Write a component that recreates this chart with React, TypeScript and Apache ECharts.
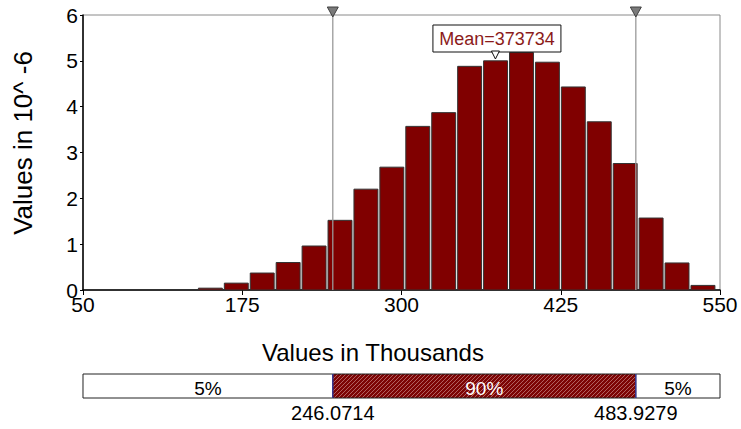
import React, { useEffect, useRef } from 'react';
import * as echarts from 'echarts';

// ---- Data ----
const binStarts = [139.8, 160.15, 180.5, 200.85, 221.2, 241.55, 261.9, 282.25, 302.6, 322.95, 343.3, 363.65, 384.0, 404.35, 424.7, 445.05, 465.4, 485.75, 506.1, 526.45];
const binWidth = 20.35;
const densities = [0.04, 0.15, 0.37, 0.6, 0.96, 1.52, 2.2, 2.68, 3.57, 3.87, 4.88, 5.0, 5.18, 4.97, 4.43, 3.67, 2.76, 1.57, 0.59, 0.1];
const percentileValues = [246.0714, 483.9279];
const percentileLabels = ['246.0714', '483.9279'];
const bandLabels = ['5%', '90%', '5%'];
const meanValue = 373.734;
const meanLabel = 'Mean=373734';
const xMin = 50;
const xMax = 550;
const xInterval = 125;
const yMin = 0;
const yMax = 6;
const yInterval = 1;
const yTitle = 'Values in 10^ -6';
const xTitle = 'Values in Thousands';

const FONT = "'Liberation Sans', Arial, sans-serif";

function makePattern(): HTMLCanvasElement {
  const c = document.createElement('canvas');
  c.width = 4;
  c.height = 4;
  const ctx = c.getContext('2d')!;
  ctx.fillStyle = '#7d0505';
  ctx.fillRect(0, 0, 4, 4);
  ctx.strokeStyle = 'rgba(235,200,200,0.6)';
  ctx.lineWidth = 0.8;
  ctx.beginPath();
  ctx.moveTo(0, 4); ctx.lineTo(4, 0);
  ctx.moveTo(-1, 1); ctx.lineTo(1, -1);
  ctx.moveTo(3, 5); ctx.lineTo(5, 3);
  ctx.stroke();
  return c;
}

export default function App() {
  const ref = useRef<HTMLDivElement>(null);

  useEffect(() => {
    if (!ref.current) return;
    const chart = echarts.init(ref.current, null, { renderer: 'svg' });
    const pattern = makePattern();

    const histData = binStarts.map((s, i) => [s, s + binWidth, densities[i]]);
    const segStarts = [xMin, ...percentileValues];
    const segEnds = [...percentileValues, xMax];
    const bandData = segStarts.map((s, i) => [s, segEnds[i]]);

    const option: any = {
      animation: false,
      backgroundColor: '#ffffff',
      textStyle: { fontFamily: FONT },
      grid: [
        { left: 83, right: 21, top: 15, bottom: 139, show: true, borderColor: '#8a8a8a', borderWidth: 1, backgroundColor: 'transparent' },
        { left: 83, right: 21, top: 374, height: 24, show: false },
      ],
      xAxis: [
        {
          type: 'value', gridIndex: 0, min: xMin, max: xMax, interval: xInterval,
          axisLine: { show: true, lineStyle: { color: '#000', width: 1.5 } },
          axisTick: { show: true, length: 5, lineStyle: { color: '#000' } },
          axisLabel: { fontSize: 21, color: '#000', margin: 4, fontFamily: FONT },
          splitLine: { show: false },
        },
        { type: 'value', gridIndex: 1, min: xMin, max: xMax, show: false },
      ],
      yAxis: [
        {
          type: 'value', gridIndex: 0, min: yMin, max: yMax, interval: yInterval,
          axisLine: { show: true, lineStyle: { color: '#000', width: 1.5 } },
          axisTick: { show: true, length: 3, lineStyle: { color: '#000' } },
          axisLabel: { fontSize: 21, color: '#000', margin: 5, fontFamily: FONT },
          splitLine: { show: false },
        },
        { type: 'value', gridIndex: 1, min: 0, max: 1, show: false },
      ],
      graphic: [
        {
          type: 'text', x: 23, y: 143, rotation: Math.PI / 2,
          style: { text: yTitle, fontSize: 26, fill: '#000', align: 'center', verticalAlign: 'middle', fontFamily: FONT },
        },
        {
          type: 'text', x: 373, y: 352,
          style: { text: xTitle, fontSize: 24, fill: '#000', align: 'center', verticalAlign: 'middle', fontFamily: FONT },
        },
      ],
      series: [
        {
          type: 'custom', xAxisIndex: 0, yAxisIndex: 0, data: histData,
          encode: { x: [0, 1], y: 2 },
          renderItem: (params: any, api: any) => {
            const p0 = api.coord([api.value(0), api.value(2)]);
            const p1 = api.coord([api.value(1), 0]);
            return {
              type: 'rect',
              shape: { x: p0[0] + 1, y: p0[1], width: p1[0] - p0[0] - 2, height: p1[1] - p0[1] },
              style: { fill: '#800000', stroke: '#333', lineWidth: 1 },
            };
          },
          z: 2,
        },
        {
          type: 'custom', xAxisIndex: 0, yAxisIndex: 0, data: percentileValues.map((v) => [v, yMax]),
          encode: { x: 0, y: 1 }, clip: false,
          renderItem: (params: any, api: any) => {
            const top = api.coord([api.value(0), yMax]);
            const bot = api.coord([api.value(0), yMin]);
            const x = top[0];
            return {
              type: 'group',
              children: [
                { type: 'line', shape: { x1: x, y1: top[1], x2: x, y2: bot[1] }, style: { stroke: '#9a9a9a', lineWidth: 1.3 } },
                { type: 'polygon', shape: { points: [[x - 5.5, top[1] - 8], [x + 5.5, top[1] - 8], [x, top[1] + 2]] }, style: { fill: '#7a7a7a', stroke: '#404040', lineWidth: 1 } },
              ],
            };
          },
          z: 5,
        },
        {
          type: 'custom', xAxisIndex: 0, yAxisIndex: 0, data: [[meanValue, yMax]],
          encode: { x: 0, y: 1 }, clip: false,
          renderItem: (params: any, api: any) => {
            const p = api.coord([api.value(0), yMax]);
            const cx = p[0] + 1.5;
            const top = p[1] + 10;
            return {
              type: 'group',
              children: [
                { type: 'rect', shape: { x: cx - 64, y: top, width: 128, height: 27 }, style: { fill: '#fff', stroke: '#111', lineWidth: 1 } },
                { type: 'text', x: cx, y: top + 14, style: { text: meanLabel, fontSize: 18, fill: '#8b1a1a', align: 'center', verticalAlign: 'middle', fontFamily: FONT } },
                { type: 'polygon', shape: { points: [[p[0] - 4, top + 26], [p[0] + 4, top + 26], [p[0], top + 34]] }, style: { fill: '#fff', stroke: '#111', lineWidth: 1 } },
              ],
            };
          },
          z: 6,
        },
        {
          type: 'custom', xAxisIndex: 1, yAxisIndex: 1, data: bandData,
          encode: { x: [0, 1] }, clip: false,
          renderItem: (params: any, api: any) => {
            const i = params.dataIndex;
            const p0 = api.coord([api.value(0), 1]);
            const p1 = api.coord([api.value(1), 0]);
            const mid = i === 1;
            const children: any[] = [
              { type: 'rect', shape: { x: p0[0], y: p0[1], width: p1[0] - p0[0], height: p1[1] - p0[1] }, style: { fill: mid ? { image: pattern, repeat: 'repeat' } : '#fff', stroke: '#222', lineWidth: 1 } },
              { type: 'text', x: (p0[0] + p1[0]) / 2, y: (p0[1] + p1[1]) / 2 + 2, style: { text: bandLabels[i], fontSize: 19, fill: mid ? '#fff' : '#000', align: 'center', verticalAlign: 'middle', fontFamily: FONT } },
            ];
            if (i > 0) {
              children.push({ type: 'line', shape: { x1: p0[0], y1: p0[1], x2: p0[0], y2: p1[1] }, style: { stroke: '#3a3aa8', lineWidth: 1.2 } });
              children.push({ type: 'text', x: p0[0], y: p1[1] + 15, style: { text: percentileLabels[i - 1], fontSize: 20, fill: '#000', align: 'center', verticalAlign: 'middle', fontFamily: FONT } });
            }
            return { type: 'group', children };
          },
          z: 3,
        },
      ],
    };

    chart.setOption(option);
    return () => chart.dispose();
  }, []);

  return <div ref={ref} style={{ position: 'fixed', left: 0, top: 0, width: 741, height: 429, background: '#fff' }} />;
}
